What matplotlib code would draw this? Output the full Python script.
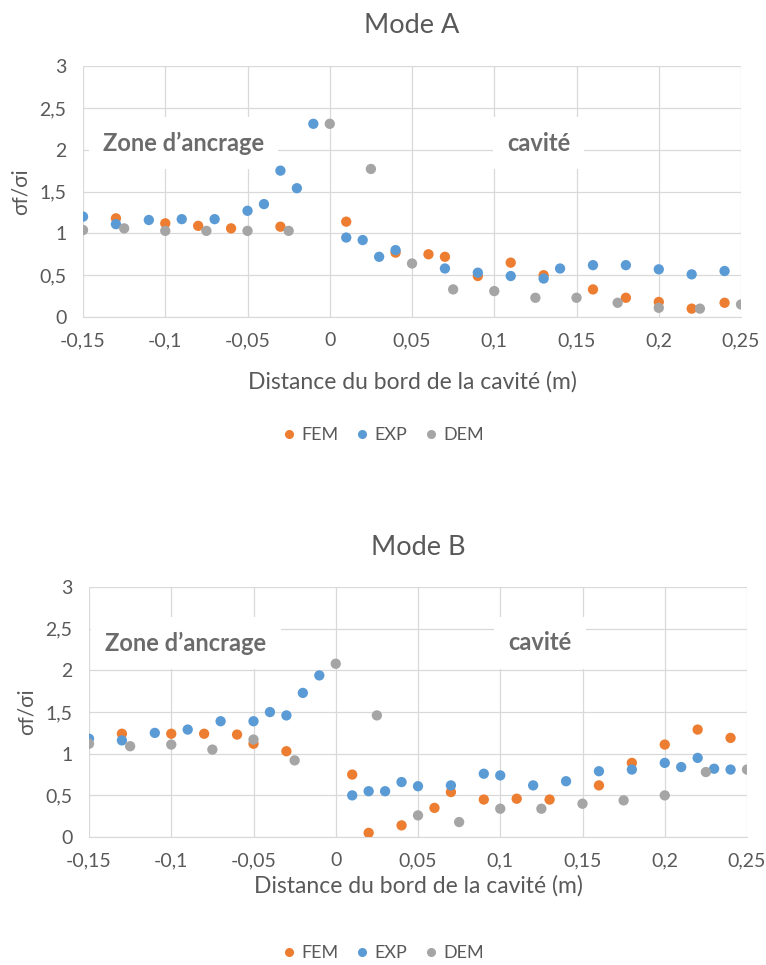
import matplotlib; matplotlib.use("Agg")
import matplotlib.pyplot as plt
from matplotlib.lines import Line2D

plt.rcParams["font.family"] = ["Lato", "DejaVu Sans"]

ORANGE, BLUE, GREY = "#ED7D31", "#5B9BD5", "#A5A5A5"
TXT = "#595959"

# ── Mode A ──────────────────────────────────────────────────────────────────
a_fem_x = [-0.13, -0.10, -0.08, -0.06, -0.03, 0.01, 0.04, 0.06, 0.07, 0.09, 0.11, 0.13, 0.16, 0.18, 0.20, 0.22, 0.24]
a_fem_y = [1.18, 1.12, 1.09, 1.06, 1.08, 1.14, 0.77, 0.75, 0.72, 0.49, 0.65, 0.50, 0.33, 0.23, 0.18, 0.10, 0.17]
a_exp_x = [-0.15, -0.13, -0.11, -0.09, -0.07, -0.05, -0.04, -0.03, -0.02, -0.01, 0.01, 0.02, 0.03, 0.04,
           0.07, 0.09, 0.11, 0.13, 0.14, 0.16, 0.18, 0.20, 0.22, 0.24]
a_exp_y = [1.20, 1.11, 1.16, 1.17, 1.17, 1.27, 1.35, 1.75, 1.54, 2.31, 0.95, 0.92, 0.72, 0.80,
           0.58, 0.53, 0.49, 0.46, 0.58, 0.62, 0.62, 0.57, 0.51, 0.55]
a_dem_x = [-0.15, -0.125, -0.10, -0.075, -0.05, -0.025, 0.0, 0.025, 0.05, 0.075, 0.10, 0.125, 0.15, 0.175, 0.20, 0.225, 0.25]
a_dem_y = [1.04, 1.06, 1.03, 1.03, 1.03, 1.03, 2.31, 1.77, 0.64, 0.33, 0.31, 0.23, 0.23, 0.17, 0.11, 0.10, 0.15]

# ── Mode B ──────────────────────────────────────────────────────────────────
b_fem_x = [-0.13, -0.10, -0.08, -0.06, -0.05, -0.03, 0.01, 0.02, 0.04, 0.06, 0.07, 0.09, 0.11, 0.13,
           0.16, 0.18, 0.20, 0.22, 0.24]
b_fem_y = [1.24, 1.24, 1.24, 1.23, 1.12, 1.03, 0.75, 0.05, 0.14, 0.35, 0.54, 0.45, 0.46, 0.45,
           0.62, 0.89, 1.11, 1.29, 1.19]
b_exp_x = [-0.15, -0.13, -0.11, -0.09, -0.07, -0.05, -0.04, -0.03, -0.02, -0.01, 0.01, 0.02, 0.03, 0.04,
           0.05, 0.07, 0.09, 0.10, 0.12, 0.14, 0.16, 0.18, 0.20, 0.21, 0.22, 0.23, 0.24]
b_exp_y = [1.18, 1.16, 1.25, 1.29, 1.39, 1.39, 1.50, 1.46, 1.73, 1.94, 0.50, 0.55, 0.55, 0.66,
           0.61, 0.62, 0.76, 0.74, 0.62, 0.67, 0.79, 0.81, 0.89, 0.84, 0.95, 0.82, 0.81]
b_dem_x = [-0.15, -0.125, -0.10, -0.075, -0.05, -0.025, 0.0, 0.025, 0.05, 0.075, 0.10, 0.125, 0.15, 0.175, 0.20, 0.225, 0.25]
b_dem_y = [1.12, 1.09, 1.11, 1.05, 1.17, 0.92, 2.08, 1.46, 0.26, 0.18, 0.34, 0.34, 0.40, 0.44, 0.50, 0.78, 0.81]

xticks = [-0.15, -0.1, -0.05, 0, 0.05, 0.1, 0.15, 0.2, 0.25]
xlabels = ["-0,15", "-0,1", "-0,05", "0", "0,05", "0,1", "0,15", "0,2", "0,25"]
yticks = [0, 0.5, 1, 1.5, 2, 2.5, 3]
ylabels = ["0", "0,5", "1", "1,5", "2", "2,5", "3"]

fig = plt.figure(figsize=(7.66, 9.65), dpi=100)


def panel(rect, title, fem, exp, dem, xlab_pad, leg_y, zone_xy, cav_xy, tpad):
    ax = fig.add_axes(rect)
    for (xs, ys), c in zip([fem, exp, dem], [ORANGE, BLUE, GREY]):
        ax.scatter(xs, ys, s=55, color=c, edgecolors="none", zorder=3)
    ax.set_xlim(-0.15, 0.25); ax.set_ylim(0, 3)
    ax.set_xticks(xticks); ax.set_xticklabels(xlabels)
    ax.set_yticks(yticks); ax.set_yticklabels(ylabels)
    ax.tick_params(length=0, labelsize=14, colors=TXT)
    ax.tick_params(axis="x", pad=11)
    ax.tick_params(axis="y", pad=12)
    ax.grid(True, color="#d9d9d9", lw=0.9, zorder=0)
    ax.set_axisbelow(True)
    for s in ["top", "right", "left"]:
        ax.spines[s].set_visible(False)
    ax.spines["bottom"].set_color("#d9d9d9")
    ax.set_title(title, fontsize=19.5, color=TXT, pad=tpad)
    ax.set_xlabel("Distance du bord de la cavité (m)", fontsize=16.5, color=TXT, labelpad=xlab_pad)
    ax.set_ylabel("σf/σi", fontsize=15, color=TXT, labelpad=6)
    box = dict(boxstyle="square,pad=0.6", fc="white", ec="none")
    ax.text(zone_xy[0], zone_xy[1], "Zone d’ancrage", fontsize=17, fontweight="bold", color="#6b6b6b",
            va="center", ha="left", bbox=box, zorder=2)
    ax.text(cav_xy[0], cav_xy[1], "cavité", fontsize=17, fontweight="bold", color="#6b6b6b",
            va="center", ha="center", bbox=box, zorder=2)
    handles = [Line2D([], [], marker="o", ls="none", color=c, markersize=5.5) for c in [ORANGE, BLUE, GREY]]
    fig.legend(handles, ["FEM", "EXP", "DEM"], loc="center", bbox_to_anchor=(0.5, leg_y), ncol=3,
               frameon=False, fontsize=13, labelcolor=TXT, handlelength=0.8, handletextpad=0.3,
               columnspacing=0.9)
    return ax


panel([0.1084, 0.6715, 0.859, 0.260], "Mode A",
      (a_fem_x, a_fem_y), (a_exp_x, a_exp_y), (a_dem_x, a_dem_y), 16, 1 - 435 / 965,
      (-0.138, 2.08), (0.127, 2.08), 24)
panel([0.1162, 0.1326, 0.859, 0.259], "Mode B",
      (b_fem_x, b_fem_y), (b_exp_x, b_exp_y), (b_dem_x, b_dem_y), 4, 1 - 953 / 965,
      (-0.140, 2.33), (0.124, 2.33), 23)

fig.savefig("out.png", dpi=100)
